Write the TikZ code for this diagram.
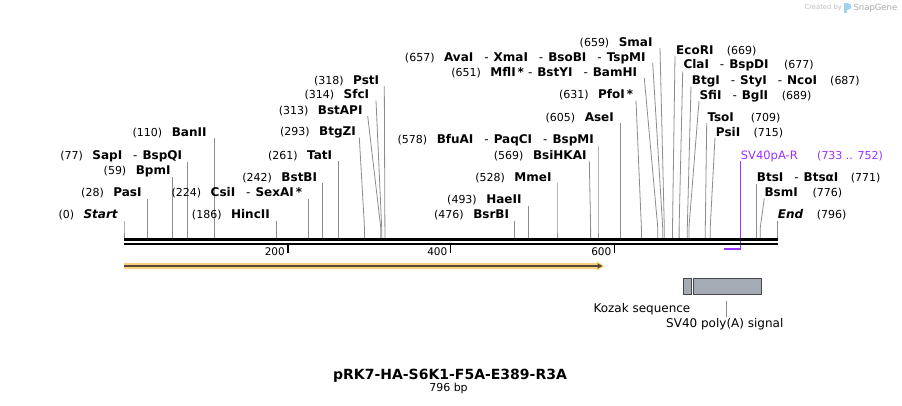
\documentclass[tikz,border=0pt]{standalone}
\usepackage{fontspec}
\setmainfont{DejaVu Sans}
\usetikzlibrary{arrows.meta}
\definecolor{sitegray}{RGB}{140,140,140}
\definecolor{primer}{RGB}{155,48,255}
\definecolor{halo}{RGB}{251,208,125}
\definecolor{orfdark}{RGB}{85,72,55}
\definecolor{featfill}{RGB}{165,171,180}
\definecolor{featdraw}{RGB}{70,72,76}
\definecolor{logogray}{RGB}{190,190,190}
\definecolor{logoblue}{RGB}{160,210,238}
\newcommand{\nm}[1]{{\fontsize{12}{14}\selectfont\bfseries #1}}
\newcommand{\sepd}{\hspace{11pt}{\mdseries -}\hspace{5pt}}
\newcommand{\LeftSite}[8]{%
  \node[lab, anchor=base east] (L#1) at (#4, #5+4.4) {(#2)\hspace{9.5pt}\nm{#3}};
  \coordinate (T#1) at (#6,#7);
  \coordinate (B#1) at (#8,238.5);
  \draw[site] (T#1) -- (#8,228) -- (B#1);
}
\newcommand{\RightSite}[9]{%
  \node[lab, anchor=base west] (N#1) at (#3, #4+4.4) {\nm{#2}};
  \node[lab, anchor=base west] (P#1) at (#6, #4+4.4) {(#5)};
  \coordinate (T#1) at (#7,#8);
  \coordinate (B#1) at (#9,238.5);
  \draw[site] (T#1) -- (#9,228) -- (B#1);
}
\begin{document}
\begin{tikzpicture}[x=1pt,y=-1pt,
  lab/.style={inner sep=0pt, font=\fontsize{11}{13}\selectfont},
  site/.style={draw=sitegray, line width=0.8pt},
  tickmark/.style={line width=1.4pt},
  ticklab/.style={inner sep=0pt, anchor=base east, font=\fontsize{10.5}{12}\selectfont},
  feat/.style={draw=featdraw, fill=featfill, line width=0.9pt, inner sep=0pt, anchor=north west},
  featlab/.style={inner sep=0pt, anchor=base west, font=\fontsize{12}{14}\selectfont}]
\useasboundingbox (0,0) rectangle (902,405);
\fill[white] (0,0) rectangle (902,405);

% left-side sites
\LeftSite{s0}{0}{\textit{Start}}{118.3}{214.5}{124}{220.5}{124}
\LeftSite{s28}{28}{PasI}{141.7}{192.5}{147.3}{198.5}{147.3}
\LeftSite{s59}{59}{BpmI}{170.7}{170}{172.7}{176.5}{172.7}
\LeftSite{s77}{77}{SapI\sepd BspQI}{182.3}{155}{187.5}{161.5}{187.5}
\LeftSite{s110}{110}{BanII}{206.7}{132}{214.5}{138}{214.5}
\LeftSite{s186}{186}{HincII}{270}{214.5}{276.8}{220.5}{276.8}
\LeftSite{s224}{224}{CsiI\sepd SexAI\,*}{302.3}{192.5}{307.9}{198.5}{307.9}
\LeftSite{s242}{242}{BstBI}{317.3}{177}{322.7}{183}{322.7}
\LeftSite{s261}{261}{TatI}{332.3}{155}{338.2}{161}{338.2}
\LeftSite{s293}{293}{BtgZI}{356}{131.5}{359.3}{137.5}{364.5}
\LeftSite{s313}{313}{BstAPI}{362.7}{110}{367.7}{116}{380.8}
\LeftSite{s314}{314}{SfcI}{369.3}{94.5}{376}{100.5}{381.7}
\LeftSite{s318}{318}{PstI}{379.3}{80}{384.3}{86}{384.9}
\LeftSite{s476}{476}{BsrBI}{509.3}{214.5}{514.4}{220.5}{514.4}
\LeftSite{s493}{493}{HaeII}{521.7}{199.5}{528.3}{205.5}{528.3}
\LeftSite{s528}{528}{MmeI}{551.7}{177}{557}{183}{557}
\LeftSite{s569}{569}{BsiHKAI}{586.7}{155}{589.3}{161}{590.6}
\LeftSite{s578}{578}{BfuAI\sepd PaqCI\sepd BspMI}{594}{139.5}{598}{146}{598}
\LeftSite{s605}{605}{AseI}{614}{117}{620.1}{123}{620.1}
\LeftSite{s631}{631}{PfoI\,*}{633.3}{94.5}{636}{100.5}{641.4}
\LeftSite{s651}{651}{MflI\,*\hspace{4pt}{\mdseries -}\hspace{5pt}BstYI\sepd BamHI}{637.3}{72}{644.3}{78}{657.8}
\LeftSite{s657}{657}{AvaI\sepd XmaI\sepd BsoBI\sepd TspMI}{645.7}{57}{652.7}{63}{662.7}
\LeftSite{s659}{659}{SmaI}{652.7}{41.7}{660}{48}{664.3}

% right-side sites
\RightSite{s669}{EcoRI}{676}{50}{669}{726.7}{675}{56}{672.5}
\RightSite{s677}{ClaI\sepd BspDI}{683.3}{64.5}{677}{784}{682.7}{71.5}{679.1}
\RightSite{s687}{BtgI\sepd StyI\sepd NcoI}{691.7}{80}{687}{830}{691}{86.5}{687.3}
\RightSite{s689}{SfiI\sepd BglI}{699.3}{95}{689}{781.7}{699}{101}{688.9}
\RightSite{s709}{TsoI}{707.3}{117.3}{709}{750.7}{706.7}{123}{705.3}
\RightSite{s715}{PsiI}{715.7}{131.7}{715}{753.3}{715}{137.5}{710.2}
\RightSite{s771}{BtsI\sepd BtsαI}{756.7}{176.7}{771}{850.7}{756.4}{184}{756.4}
\RightSite{s776}{BsmI}{764.3}{192.3}{776}{812.3}{764.3}{198.3}{760.2}
\RightSite{s796}{\textit{End}}{777.7}{214}{796}{816.7}{777.5}{220.5}{777.5}

% primer
\node[inner sep=0pt, anchor=base west, text=primer, font=\fontsize{11.5}{13}\selectfont] (prl) at (740.7,159.7) {SV40pA-R};
\node[inner sep=0pt, anchor=base west, text=primer, font=\fontsize{11}{13}\selectfont] (prp) at (817,159.7) {(733 .. 752)};
\coordinate (prT) at (740.7,161);
\coordinate (prB) at (740.7,250);
\coordinate (prL) at (724,249);
\draw[primer, line width=1.2pt] (prT) -- (prB);
\draw[primer, line width=2pt] (prL) -- (prB |- prL);

% backbone
\coordinate (bbL) at (124,239.6);
\coordinate (bbR) at (777.7,239.6);
\draw[line width=2.7pt] (bbL) -- (bbR);
\draw[line width=2.5pt] ([yshift=-4.2pt]bbL) -- ([yshift=-4.2pt]bbR);

% ticks
\foreach \tx/\tl in {288/200, 450.5/400, 614.5/600}{
  \draw[tickmark] (\tx,245) -- (\tx,253);
  \node[ticklab] at (\tx-3,255.5) {\tl};
}

% ORF arrow
\fill[halo] (124,263) -- (597,263) -- (597,261.3) -- (604.5,266) -- (597,270.7) -- (597,269) -- (124,269) -- cycle;
\coordinate (orfS) at (124,266);
\coordinate (orfE) at (602.5,266);
\draw[orfdark, line width=1.5pt, -{Triangle[length=5pt,width=5pt]}] (orfS) -- (orfE);

% features
\node[feat, minimum width=7.4pt, minimum height=16pt] (kozak) at (683.3,278.3) {};
\node[feat, minimum width=67.4pt, minimum height=16pt] (sv40) at (693.3,278.3) {};
\node[featlab] (kozlab) at (593.3,312.7) {Kozak sequence};
\node[featlab] (sv40lab) at (666,327.7) {SV40 poly(A) signal};
\coordinate (sv40c1) at (726,301);
\coordinate (sv40c2) at (726,316.7);
\draw[site] (sv40c1) -- (sv40c2);

% title
\node[inner sep=0pt, anchor=base, font=\fontsize{14}{16}\selectfont\bfseries] (title) at (450,379.6) {pRK7-HA-S6K1-F5A-E389-R3A};
\node[inner sep=0pt, anchor=base, font=\fontsize{11}{13}\selectfont] (bp) at (448.5,391.7) {796 bp};

% logo
\node[inner sep=0pt, anchor=base west, text=logogray, font=\fontsize{6.8}{8}\selectfont] (cby) at (804.3,9.8) {Created by};
\fill[logoblue] (844,2.5) rectangle (847,13);
\fill[logoblue] (847,2.5) .. controls (852.5,2.5) and (852.5,9.5) .. (847,9.5) -- cycle;
\node[inner sep=0pt, anchor=base west, text=logogray!90!black, font=\fontsize{8.5}{10}\selectfont] (sg) at (853.3,10.4) {SnapGene};
\end{tikzpicture}
\end{document}
